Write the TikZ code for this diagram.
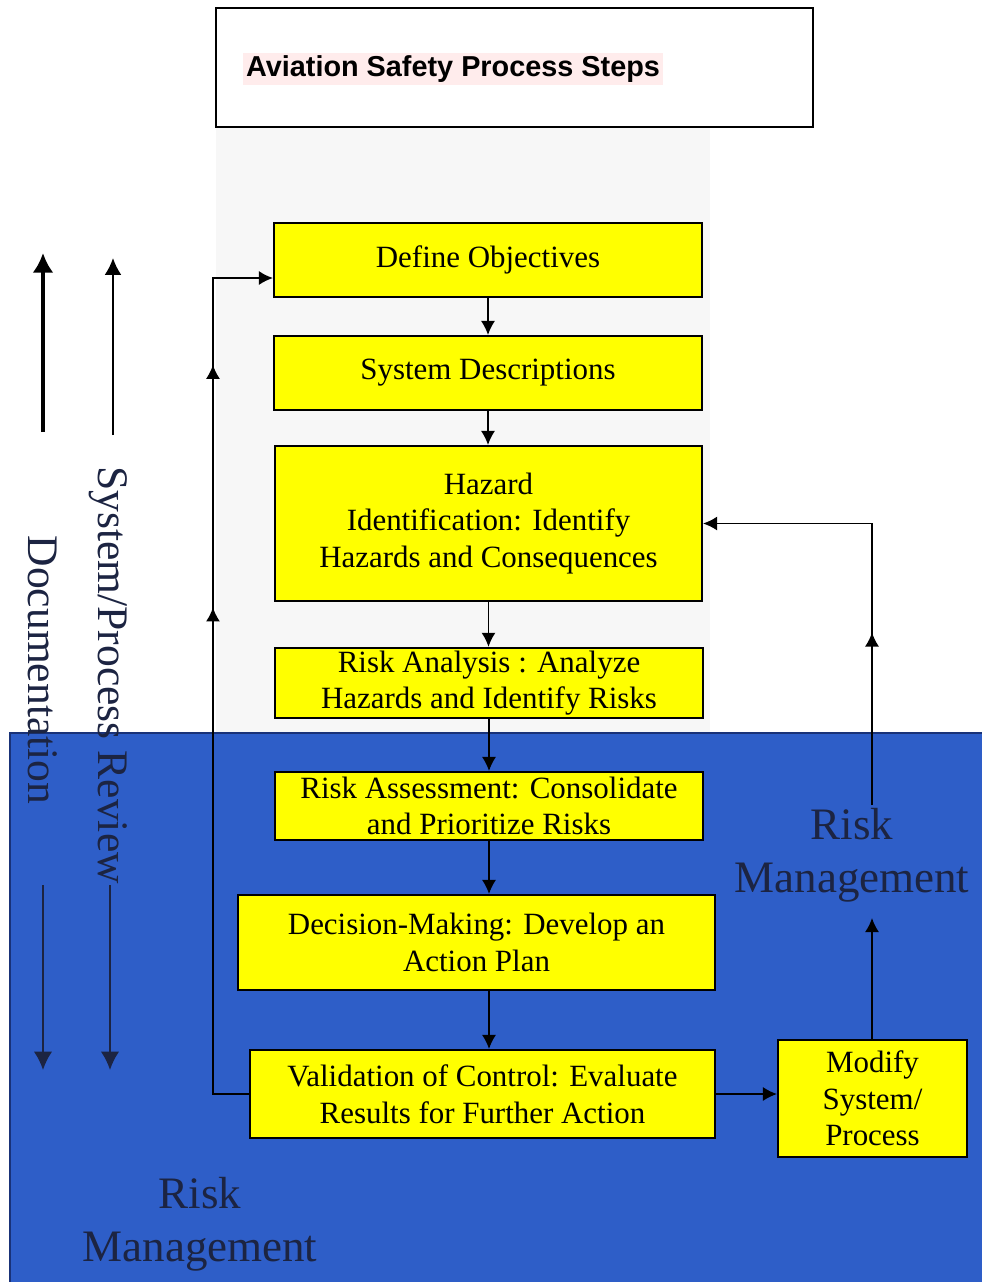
\documentclass[tikz,border=0pt]{standalone}
\usepackage{fontspec}
\setmainfont{Liberation Serif}
\newfontfamily\titlefont{Liberation Sans}
\usetikzlibrary{arrows.meta,decorations.markings}
\definecolor{riskblue}{RGB}{46,94,200}
\definecolor{riskedge}{RGB}{25,50,120}
\definecolor{stepyellow}{RGB}{255,255,0}
\definecolor{darktext}{RGB}{28,36,66}
\tikzset{
  stepbox/.style={draw=black,line width=1.4pt,fill=stepyellow,align=center,
    font=\fontsize{22}{26}\selectfont,inner sep=2pt},
  link/.style={line width=1.2pt,-{Latex[length=10pt,width=10pt]}},
  sidetext/.style={rotate=-90,font=\fontsize{31}{36}\selectfont,text=darktext},
  rmtext/.style={align=center,font=\fontsize{32}{38}\selectfont,text=darktext,inner sep=0pt},
}
\begin{document}
\begin{tikzpicture}[x=0.025cm,y=-0.025cm]
  \useasboundingbox (0,0) rectangle (981,1282);
  \fill[white] (0,0) rectangle (981,1282);
  % backgrounds
  \fill[black!3] (216,127) rectangle (710,733);
  \draw[riskedge,line width=1.5pt,fill=riskblue] (10,733) rectangle (985,1290);
  % title
  \node[draw=black,line width=1.2pt,minimum width=14.925cm,minimum height=2.975cm] (titlebox) at (514.5,67.5) {};
  \node[anchor=west,fill=pink!30,inner sep=2pt,font=\titlefont\bfseries\fontsize{20.5}{24}\selectfont] (title) at (243,69) {Aviation Safety Process Steps};
  % steps
  \node[stepbox,minimum width=10.7cm,minimum height=1.85cm] (def) at (488,260) {Define Objectives};
  \node[stepbox,minimum width=10.7cm,minimum height=1.85cm] (sys) at (488,373) {System Descriptions};
  \node[stepbox,minimum width=10.675cm,minimum height=3.875cm] (haz) at (488.5,523.5) {Hazard\\Identification: Identify\\Hazards and Consequences};
  \node[stepbox,minimum width=10.7cm,minimum height=1.75cm] (ana) at (489,683) {Risk Analysis : Analyze\\Hazards and Identify Risks};
  \node[stepbox,minimum width=10.7cm,minimum height=1.7cm] (ass) at (489,806) {Risk Assessment: Consolidate\\and Prioritize Risks};
  \node[stepbox,minimum width=11.925cm,minimum height=2.375cm] (dec) at (476.5,942.5) {Decision-Making: Develop an\\Action Plan};
  \node[stepbox,minimum width=11.625cm,minimum height=2.2cm] (val) at (482.5,1094) {Validation of Control: Evaluate\\Results for Further Action};
  \node[stepbox,minimum width=4.725cm,minimum height=2.925cm] (mod) at (872.5,1098.5) {Modify\\System/\\Process};
  % down the chain
  \draw[link] (def) -- (def |- sys.north);
  \draw[link] (sys) -- (sys |- haz.north);
  \draw[link] (haz) -- (haz |- ana.north);
  \draw[link] (ana) -- (ana |- ass.north);
  \draw[link] (ass) -- (ass |- dec.north);
  \draw[link] (ass |- dec.south) -- (ass |- val.north);
  \draw[link] (val.east) -- (val.east -| mod.west);
  % feedback loops
  \draw[link,postaction={decorate},decoration={markings,
      mark=at position 0.573 with {\arrow{Latex[length=10pt,width=10pt]}},
      mark=at position 0.839 with {\arrow{Latex[length=10pt,width=10pt]}}}]
    (val.west) -- ++(-36,0) |- ([yshift=-0.45cm]def.west);
  \node[rmtext] (rmright) at (852,855) {Risk\\Management};
  \coordinate (rmlo) at (872,918);
  \coordinate (rmhi) at (872,805);
  \draw[link] (mod.north -| rmlo) -- (rmlo);
  \draw[link,postaction={decorate},decoration={markings,
      mark=at position 0.383 with {\arrow{Latex[length=10pt,width=10pt]}}}]
    (rmhi) |- (haz.east);
  % side arrows
  \node[sidetext] (doc) at (43,670) {Documentation};
  \node[sidetext] (review) at (108,675) {System/Process Review};
  \coordinate (docup) at (43,253);
  \coordinate (docdn) at (43,1070);
  \coordinate (revup) at (113,258);
  \coordinate (revdn) at (110,1070);
  \draw[line width=3.5pt,-{Latex[length=14pt,width=15pt]}] (43,432) -- (docup);
  \draw[line width=1.4pt,-{Latex[length=12pt,width=12pt]}] (113,435) -- (revup);
  \draw[line width=1.4pt,draw=darktext,-{Latex[length=13pt,width=13pt]}] (43,885) -- (docdn);
  \draw[line width=1.4pt,draw=darktext,-{Latex[length=13pt,width=13pt]}] (110,885) -- (revdn);
  \node[rmtext] (rmleft) at (200,1224) {Risk\\Management};
\end{tikzpicture}
\end{document}
